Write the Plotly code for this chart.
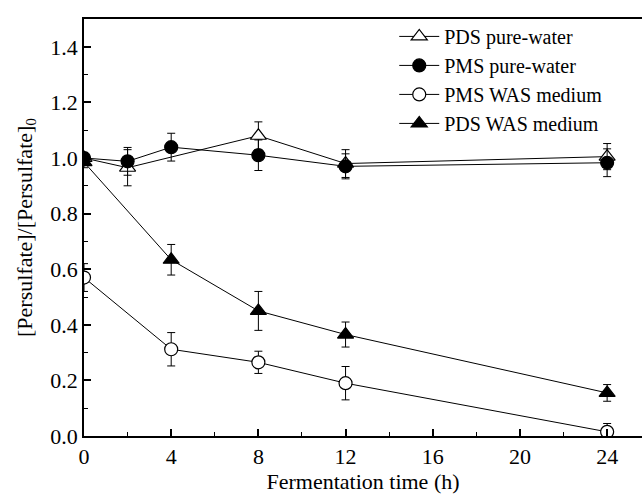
import plotly.graph_objects as go

# Data
pds_pure_x = [0, 2, 8, 12, 24]
pds_pure_y = [1.00, 0.965, 1.08, 0.98, 1.005]
pds_pure_err = [0.02, 0.065, 0.05, 0.05, 0.047]

pms_pure_x = [0, 2, 4, 8, 12, 24]
pms_pure_y = [1.00, 0.988, 1.039, 1.01, 0.97, 0.983]
pms_pure_err = [0.02, 0.05, 0.05, 0.055, 0.045, 0.05]

pms_was_x = [0, 4, 8, 12, 24]
pms_was_y = [0.57, 0.312, 0.265, 0.19, 0.015]
pms_was_err = [0.05, 0.06, 0.04, 0.06, 0.03]

pds_was_x = [0, 4, 8, 12, 24]
pds_was_y = [0.985, 0.634, 0.45, 0.365, 0.155]
pds_was_err = [0.02, 0.055, 0.07, 0.045, 0.03]

x_ticks = [0, 4, 8, 12, 16, 20, 24]
y_ticks = [0.0, 0.2, 0.4, 0.6, 0.8, 1.0, 1.2, 1.4]

FONT = "Liberation Serif, Times New Roman, serif"

def trace(x, y, err, name, symbol, fill):
    return go.Scatter(
        x=x, y=y, name=name, mode="lines+markers",
        line=dict(color="black", width=1),
        marker=dict(symbol=symbol, size=14 if "triangle" in symbol else 13,
                    color=fill, line=dict(color="black", width=1.2)),
        error_y=dict(type="data", array=err, visible=True,
                     color="black", thickness=1, width=4),
    )

fig = go.Figure()
fig.add_trace(trace(pds_pure_x, pds_pure_y, pds_pure_err, "PDS pure-water", "triangle-up", "white"))
fig.add_trace(trace(pms_pure_x, pms_pure_y, pms_pure_err, "PMS pure-water", "circle", "black"))
fig.add_trace(trace(pms_was_x, pms_was_y, pms_was_err, "PMS WAS medium", "circle", "white"))
fig.add_trace(trace(pds_was_x, pds_was_y, pds_was_err, "PDS WAS medium", "triangle-up", "black"))

axis_common = dict(
    showgrid=False, zeroline=False, showline=True, linecolor="black", linewidth=1.8,
    ticks="inside", ticklen=7, tickwidth=1.5, tickcolor="black",
    tickfont=dict(family=FONT, size=22, color="black"),
    mirror=True, automargin=False,
)

fig.update_layout(
    width=642, height=501,
    margin=dict(l=84, r=0, t=19, b=65),
    paper_bgcolor="white", plot_bgcolor="white",
    font=dict(family=FONT, color="black"),
    xaxis=dict(
        range=[0, 25.6], tickvals=x_ticks, ticktext=[str(v) for v in x_ticks],
        minor=dict(ticks="inside", ticklen=4, tickwidth=1.2, tickcolor="black", dtick=2),
        title=dict(text="Fermentation time (h)", font=dict(family=FONT, size=22), standoff=4),
        **axis_common,
    ),
    yaxis=dict(
        range=[0, 1.5], tickvals=y_ticks, ticktext=[f"{v:.1f}" for v in y_ticks],
        minor=dict(ticks="inside", ticklen=4, tickwidth=1.2, tickcolor="black", dtick=0.1),
        title=dict(text="[Persulfate]/[Persulfate]<sub>0</sub>", font=dict(family=FONT, size=22), standoff=12),
        **axis_common,
    ),
    showlegend=True,
    legend=dict(
        x=0.556, y=1.005, xanchor="left", yanchor="top",
        bgcolor="rgba(0,0,0,0)", borderwidth=0,
        font=dict(family=FONT, size=20, color="black"),
        itemwidth=40, tracegroupgap=0,
    ),
)

fig.write_html("out.html")
